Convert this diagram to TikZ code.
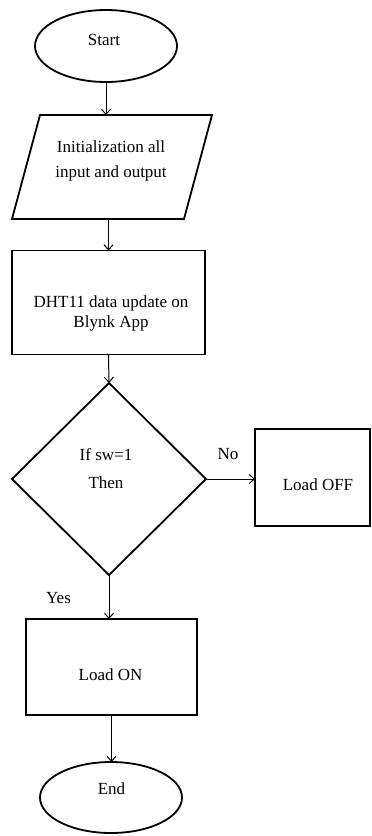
\documentclass[tikz,border=0pt]{standalone}
\usepackage{fontspec}
\setmainfont{Liberation Serif}
\usetikzlibrary{shapes.geometric,arrows.meta}
\begin{document}
\begin{tikzpicture}[x=1pt,y=-1pt,
  border line/.style={draw=black,line width=1.8pt},
  outline/.style={border line,inner sep=0pt,outer sep=0pt},
  terminal/.style={outline,ellipse,minimum width=142pt,minimum height=72pt},
  ioframe/.style={inner sep=0pt,outer sep=0pt,minimum width=200pt,minimum height=104pt},
  process/.style={outline,rectangle},
  decision/.style={outline,diamond,aspect=1,minimum width=194pt,minimum height=192pt},
  txt/.style={inner sep=0pt,align=center,font=\rmfamily\fontsize{17}{20}\selectfont},
  flow/.style={draw=black,line width=1pt,-{Straight Barb[length=5pt,width=9pt]}},
]
\fill[white] (0,0) rectangle (372,836);
\useasboundingbox (0,0) rectangle (372,836);

% shapes
\node[terminal] (start) at (106,46) {};
\node[ioframe] (init) at (112,167) {};
\draw[border line,line join=miter]
  ([xshift=28pt]init.north west) -- (init.north east)
  -- ([xshift=-28pt]init.south east) -- (init.south west) -- cycle;
\node[process,minimum width=193pt,minimum height=104pt] (dht) at (108.5,302.5) {};
\node[decision] (dec) at (109,479) {};
\node[process,minimum width=115pt,minimum height=97pt] (off) at (312.5,477.5) {};
\node[process,minimum width=171pt,minimum height=96pt] (on) at (111.5,667) {};
\node[terminal,minimum height=71pt] (end) at (111,797.5) {};

% texts
\node[txt] (startT) at (104,40) {Start};
\node[txt,font=\rmfamily\fontsize{17}{24.5}\selectfont] (initT) at (111,161) {Initialization all\\input and output};
\node[txt] (dhtT) at (111,313) {DHT11 data update on\\Blynk App};
\node[txt,font=\rmfamily\fontsize{17}{28}\selectfont] (decT) at (106,469) {If sw=1\\Then};
\node[txt] (offT) at (318,485) {Load OFF};
\node[txt] (onT) at (110.5,675) {Load ON};
\node[txt] (endT) at (111.5,789) {End};
\node[txt] (noT) at (228,454) {No};
\node[txt] (yesT) at (58.5,598) {Yes};

% connectors
\draw[flow] (start.south) -- (start.south |- init.north);
\draw[flow] (dht.north |- init.south) -- (dht.north);
\draw[flow] (dht.south) -- (dec.north);
\draw[flow] (dec.east) -- (dec.east -| off.west);
\draw[flow] (dec.south) -- (dec.south |- on.north);
\draw[flow] (on.south) -- (on.south |- end.north);
\end{tikzpicture}
\end{document}
